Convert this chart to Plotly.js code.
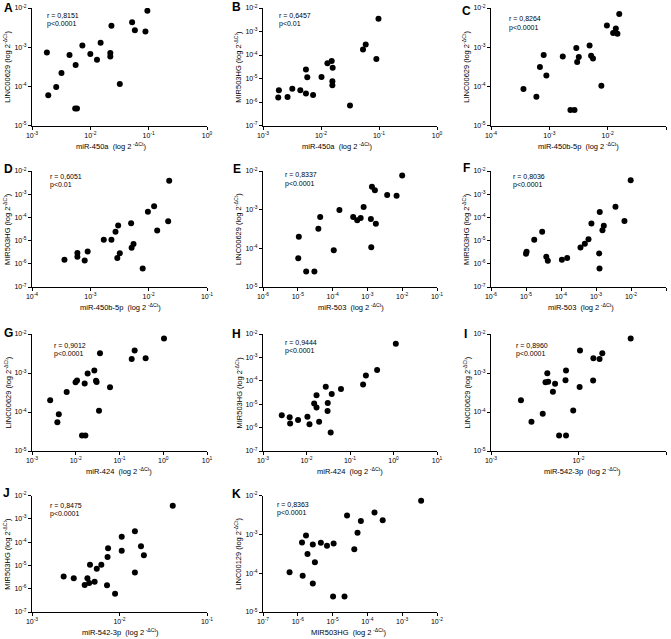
<!DOCTYPE html>
<html>
<head>
<meta charset="utf-8">
<script src="https://cdn.plot.ly/plotly-3.0.1.min.js"></script>
<style>
  html, body { margin: 0; padding: 0; background: #fff; }
  #chart { width: 671px; height: 639px; }
</style>
</head>
<body>
<div id="chart"></div>
<script>
// values (log scale, one point per sample)
const aX = [9.5e-2, 5.2e-2, 5.8e-2, 8.8e-2, 2.3e-2, 1.8e-3, 7.3e-3, 1.5e-2, 1.0e-2, 4.4e-3, 2.2e-2, 2.2e-2, 1.3e-2, 5.6e-3, 3.2e-3, 3.2e-2, 2.6e-3, 1.9e-3, 5.5e-3, 5.9e-3];
const aY = [8.5e-3, 4.3e-3, 2.7e-3, 2.5e-3, 3.5e-3, 7.3e-4, 1.1e-3, 1.3e-3, 6.7e-4, 6.3e-4, 7.1e-4, 5.8e-4, 4.8e-4, 3.5e-4, 2.2e-4, 1.15e-4, 9.6e-5, 5.9e-5, 2.7e-5, 2.7e-5];

const bX = [9.8e-2, 5.9e-2, 5.3e-2, 9.0e-2, 1.53e-2, 1.29e-2, 1.59e-2, 5.5e-3, 5.8e-3, 1.02e-2, 1.57e-2, 1.57e-2, 1.88e-3, 3.2e-3, 4.4e-3, 5.5e-3, 7.3e-3, 1.83e-3, 2.65e-3, 3.16e-2];
const bY = [3.5e-3, 2.8e-4, 1.7e-4, 6.8e-5, 5.6e-5, 4.5e-5, 2.9e-5, 2.4e-5, 1.13e-5, 1.17e-5, 7.7e-6, 5.2e-6, 3.2e-6, 3.7e-6, 3.2e-6, 2.3e-6, 2.0e-6, 1.54e-6, 1.64e-6, 7.1e-7];

const cX = [1.58e-2, 9.7e-3, 1.38e-2, 1.24e-2, 1.47e-2, 4.9e-3, 2.9e-3, 8.0e-4, 1.7e-3, 5.2e-3, 3.2e-3, 5.6e-3, 3.0e-3, 6.9e-4, 8.9e-4, 7.8e-3, 3.6e-4, 6.0e-4, 2.3e-3, 2.7e-3];
const cY = [7.0e-3, 3.6e-3, 3.0e-3, 2.3e-3, 2.2e-3, 1.1e-3, 9.5e-4, 6.3e-4, 5.8e-4, 6.0e-4, 5.6e-4, 5.1e-4, 4.2e-4, 3.1e-4, 1.9e-4, 1.03e-4, 8.6e-5, 5.4e-5, 2.5e-5, 2.5e-5];

const dX = [2.25e-2, 1.24e-2, 9.7e-3, 2.16e-2, 5.0e-3, 3.0e-3, 1.4e-2, 2.7e-3, 1.7e-3, 2.3e-3, 5.5e-3, 5.1e-3, 6.0e-4, 9.0e-4, 3.2e-3, 6.0e-4, 2.9e-3, 3.6e-4, 8.0e-4, 7.9e-3];
const dY = [3.8e-3, 3.0e-4, 1.75e-4, 6.9e-5, 5.6e-5, 4.5e-5, 2.7e-5, 2.4e-5, 1.1e-5, 1.1e-5, 7.2e-6, 4.9e-6, 2.95e-6, 3.4e-6, 2.85e-6, 2.0e-6, 1.8e-6, 1.5e-6, 1.4e-6, 6.2e-7];

const eX = [1.0e-2, 1.35e-3, 1.64e-3, 3.7e-3, 6.9e-3, 7.8e-4, 1.57e-4, 4.4e-5, 3.9e-4, 6.4e-4, 5.1e-4, 1.26e-3, 1.75e-3, 3.9e-5, 1.07e-5, 1.08e-4, 1.29e-3, 1.03e-5, 1.74e-5, 3.0e-5];
const eY = [7.7e-3, 3.9e-3, 3.2e-3, 2.4e-3, 2.3e-3, 1.17e-3, 9.8e-4, 6.5e-4, 6.5e-4, 6.1e-4, 5.3e-4, 5.7e-4, 4.3e-4, 3.2e-4, 2.0e-4, 8.9e-5, 1.06e-4, 5.5e-5, 2.5e-5, 2.5e-5];

const fX = [9.8e-3, 3.6e-3, 1.28e-3, 6.5e-3, 7.4e-4, 1.67e-3, 1.53e-3, 2.9e-5, 1.72e-5, 6.1e-4, 4.8e-4, 3.6e-4, 1.04e-5, 1.0e-5, 1.23e-3, 3.8e-5, 4.2e-5, 1.06e-4, 1.5e-4, 1.26e-3];
const fY = [4.0e-3, 2.9e-4, 1.7e-4, 7.0e-5, 5.5e-5, 4.4e-5, 2.8e-5, 2.4e-5, 1.1e-5, 1.13e-5, 7.4e-6, 5.0e-6, 3.3e-6, 2.7e-6, 2.8e-6, 2.0e-6, 1.36e-6, 1.5e-6, 1.8e-6, 6.2e-7];

const gX = [1.04, 3.58e-2, 2.22e-1, 1.9e-1, 3.96e-1, 2.66e-2, 1.87e-2, 1.07e-2, 9.9e-3, 2.9e-2, 3.0e-2, 1.6e-2, 6.07e-2, 6.2e-3, 2.6e-3, 3.4e-2, 4.1e-3, 3.8e-3, 1.39e-2, 1.66e-2];
const gY = [7.7e-3, 3.2e-3, 3.8e-3, 2.3e-3, 2.4e-3, 1.16e-3, 9.7e-4, 6.4e-4, 5.8e-4, 6.3e-4, 5.9e-4, 5.4e-4, 4.3e-4, 3.25e-4, 2.0e-4, 1.07e-4, 8.8e-5, 5.5e-5, 2.5e-5, 2.5e-5];

const hX = [1.13, 4.2e-1, 2.32e-1, 2.0e-1, 6.2e-2, 2.77e-2, 3.8e-2, 1.7e-2, 1.5e-2, 3.08e-2, 1.7e-2, 3.05e-2, 2.7e-3, 4.1e-3, 1.05e-2, 6.4e-3, 1.95e-2, 4.2e-3, 1.17e-2, 3.6e-2];
const hY = [3.8e-3, 2.9e-4, 1.7e-4, 6.9e-5, 4.5e-5, 5.6e-5, 2.7e-5, 2.4e-5, 1.08e-5, 1.12e-5, 7.3e-6, 5.1e-6, 3.4e-6, 2.8e-6, 2.9e-6, 2.1e-6, 1.8e-6, 1.5e-6, 1.4e-6, 6.1e-7];

const iX = [3.95e-2, 1.04e-2, 1.87e-2, 1.48e-2, 1.74e-2, 7.2e-3, 4.4e-3, 4.2e-3, 4.5e-3, 5.4e-3, 7.1e-3, 1.47e-2, 1.03e-2, 5.1e-3, 2.2e-3, 8.7e-3, 3.9e-3, 2.9e-3, 6.0e-3, 7.2e-3];
const iY = [7.7e-3, 3.8e-3, 3.2e-3, 2.4e-3, 2.3e-3, 1.16e-3, 9.9e-4, 5.8e-4, 6.0e-4, 5.3e-4, 6.5e-4, 6.4e-4, 4.4e-4, 3.3e-4, 2.0e-4, 1.1e-4, 9.0e-5, 5.6e-5, 2.5e-5, 2.5e-5];

const jX = [4.06e-2, 1.5e-2, 1.06e-2, 1.76e-2, 7.4e-3, 1.06e-2, 1.9e-2, 7.3e-3, 4.6e-3, 6.2e-3, 5.5e-3, 1.5e-2, 2.3e-3, 3.0e-3, 4.3e-3, 5.2e-3, 4.5e-3, 4.0e-3, 7.2e-3, 8.9e-3];
const jY = [3.6e-3, 2.9e-4, 1.7e-4, 6.7e-5, 5.4e-5, 4.3e-5, 2.7e-5, 2.3e-5, 1.07e-5, 1.07e-5, 7.2e-6, 4.9e-6, 3.3e-6, 2.8e-6, 2.8e-6, 2.0e-6, 1.75e-6, 1.44e-6, 1.4e-6, 6.1e-7];

const kX = [3.5e-3, 1.6e-4, 2.6e-5, 2.75e-4, 6.5e-5, 5.2e-5, 1.72e-6, 1.32e-6, 4.6e-6, 2.7e-6, 1.07e-5, 6.9e-6, 4.2e-5, 1.9e-6, 3.1e-6, 5.8e-7, 1.38e-6, 2.7e-6, 1.03e-5, 2.2e-5];
const kY = [7.3e-3, 3.65e-3, 3.06e-3, 2.3e-3, 2.2e-3, 1.1e-3, 9.4e-4, 6.2e-4, 6.1e-4, 5.5e-4, 5.8e-4, 5.1e-4, 4.1e-4, 3.1e-4, 1.9e-4, 1.05e-4, 8.6e-5, 5.4e-5, 2.5e-5, 2.5e-5];

const letters = ["A", "B", "C", "D", "E", "F", "G", "H", "I", "J", "K"];
const xTitles = ["miR-450a", "miR-450a", "miR-450b-5p", "miR-450b-5p", "miR-503", "miR-503", "miR-424", "miR-424", "miR-542-3p", "miR-542-3p", "MIR503HG"];
const yTitles = ["LINC00629", "MIR503HG", "LINC00629", "MIR503HG", "LINC00629", "MIR503HG", "LINC00629", "MIR503HG", "LINC00629", "MIR503HG", "LINC00129"];
const rTexts = ["r = 0,8151", "r = 0,6457", "r = 0,8264", "r = 0,6051", "r = 0,8337", "r = 0,8036", "r = 0,9012", "r = 0,9444", "r = 0,8960", "r = 0,8475", "r = 0,8363"];
const pTexts = ["p<0.0001", "p<0.01", "p<0.0001", "p<0.01", "p<0.0001", "p<0.0001", "p<0.0001", "p<0.0001", "p<0.0001", "p<0.0001", "p<0.0001"];
// decade exponents of each axis range
const xExp = [[-3, 0], [-3, 0], [-4, -1], [-4, -1], [-6, -1], [-6, -1], [-3, 1], [-3, 1], [-3, -1], [-3, -1], [-7, -2]];
const yExp = [[-5, -2], [-7, -2], [-5, -2], [-7, -2], [-5, -2], [-7, -2], [-5, -2], [-7, -2], [-5, -2], [-7, -2], [-5, -2]];

const xs = [aX, bX, cX, dX, eX, fX, gX, hX, iX, jX, kX];
const ys = [aY, bY, cY, dY, eY, fY, gY, hY, iY, jY, kY];

// page geometry in pixels
const W = 671, H = 639;
const colPx = [[32, 207], [263, 437], [491, 666]];
const rowPx = [[8, 125.5], [171, 287], [334, 451], [495.5, 612]];
const letterPx = [[8, 8], [236.5, 7], [467, 11], [8, 169], [236.5, 169], [466, 168.5], [8, 332.5], [236.5, 334], [465, 334], [6, 493], [236.5, 494]];
const notePx = [[45, 15.7], [276.7, 15.7], [506.7, 19], [48.3, 176], [283.3, 175], [511, 176.7], [51.7, 345], [282.7, 342.3], [514, 345], [48.3, 505], [275, 504.3]];
const xTitlePx = [111, 337, 578.5, 120, 350.5, 581, 119, 350, 582, 120, 348];

const FONT = "Liberation Sans, Arial, Helvetica, sans-serif";

function px(x) { return x / W; }
function py(y) { return 1 - y / H; }
function esc(s) { return s.replace(/</g, "&lt;"); }

function decades(lo, hi) {
  const vals = [];
  const text = [];
  for (let e = lo; e <= hi; e++) {
    vals.push(Math.pow(10, e));
    text.push("10<sup>" + e + "</sup>");
  }
  return { vals, text };
}

const traces = [];
const layout = {
  width: W,
  height: H,
  margin: { l: 0, r: 0, t: 0, b: 0 },
  showlegend: false,
  paper_bgcolor: "#fff",
  plot_bgcolor: "#fff",
  font: { family: FONT, color: "#000", size: 7 },
  annotations: []
};

for (let i = 0; i < letters.length; i++) {
  const n = i === 0 ? "" : String(i + 1);
  const col = colPx[i % 3];
  const row = rowPx[Math.floor(i / 3)];

  traces.push({
    type: "scatter",
    mode: "markers",
    x: xs[i],
    y: ys[i],
    xaxis: "x" + n,
    yaxis: "y" + n,
    marker: { size: 6, color: "#000" },
    hoverinfo: "skip"
  });

  const xt = decades(xExp[i][0], xExp[i][1]);
  const yt = decades(yExp[i][0], yExp[i][1]);
  const common = {
    type: "log",
    tickmode: "array",
    ticks: "outside",
    ticklen: 3,
    tickwidth: 1,
    tickcolor: "#000",
    showline: true,
    linecolor: "#000",
    linewidth: 1,
    showgrid: false,
    zeroline: false,
    tickfont: { size: 7, family: FONT, color: "#000" },
    fixedrange: true
  };
  layout["xaxis" + n] = Object.assign({}, common, {
    domain: [px(col[0]), px(col[1])],
    anchor: "y" + n,
    range: xExp[i],
    tickvals: xt.vals,
    ticktext: xt.text
  });
  layout["yaxis" + n] = Object.assign({}, common, {
    domain: [py(row[1]), py(row[0])],
    anchor: "x" + n,
    range: yExp[i],
    tickvals: yt.vals,
    ticktext: yt.text
  });

  // panel letter
  layout.annotations.push({
    xref: "paper", yref: "paper",
    x: px(letterPx[i][0]), y: py(letterPx[i][1]),
    xanchor: "center", yanchor: "middle",
    text: "<b>" + letters[i] + "</b>",
    showarrow: false,
    font: { size: 12, family: FONT, color: "#000" }
  });
  // correlation note
  layout.annotations.push({
    xref: "paper", yref: "paper",
    x: px(notePx[i][0]), y: py(notePx[i][1]),
    xanchor: "left", yanchor: "middle",
    text: rTexts[i],
    showarrow: false,
    font: { size: 7, family: FONT, color: "#000" }
  });
  layout.annotations.push({
    xref: "paper", yref: "paper",
    x: px(notePx[i][0]), y: py(notePx[i][1] + 8.6),
    xanchor: "left", yanchor: "middle",
    text: esc(pTexts[i]),
    showarrow: false,
    font: { size: 7, family: FONT, color: "#000" }
  });
  // axis titles
  layout.annotations.push({
    xref: "paper", yref: "paper",
    x: px(xTitlePx[i]), y: py(row[1] + 20),
    xanchor: "center", yanchor: "middle",
    text: xTitles[i] + "  (log 2<sup> -\u0394Ct</sup>)",
    showarrow: false,
    font: { size: 7.5, family: FONT, color: "#000" }
  });
  layout.annotations.push({
    xref: "paper", yref: "paper",
    x: px(col[0] - 25), y: py((row[0] + row[1]) / 2),
    xanchor: "center", yanchor: "middle",
    textangle: -90,
    text: yTitles[i] + " (log 2<sup>-\u0394Ct</sup>)",
    showarrow: false,
    font: { size: 7.5, family: FONT, color: "#000" }
  });
}

Plotly.newPlot("chart", traces, layout, { staticPlot: true, displayModeBar: false });
</script>
</body>
</html>
